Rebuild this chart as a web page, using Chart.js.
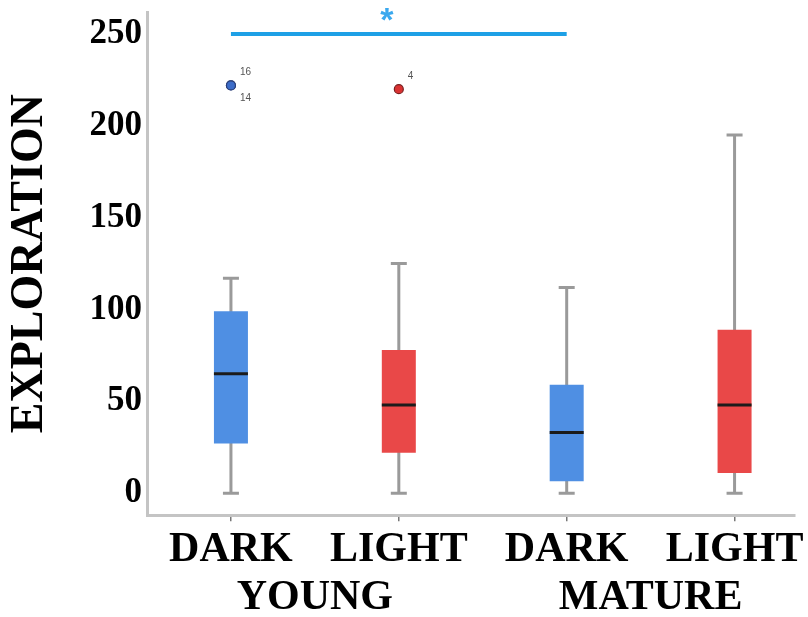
<!DOCTYPE html>
<html>
<head>
<meta charset="utf-8">
<script src="https://cdn.jsdelivr.net/npm/chart.js@4.4.1/dist/chart.umd.min.js"></script>
<style>
  html, body { margin: 0; padding: 0; background: #ffffff; }
  #wrap { width: 808px; height: 617px; }
</style>
</head>
<body>
<div id="wrap"><canvas id="c" width="808" height="617"></canvas></div>
<script>
// ---- data ----
const categories = ['DARK', 'LIGHT', 'DARK', 'LIGHT'];
const groups = ['YOUNG', 'MATURE'];
const whiskerMin = [0, 0, 0, 0];
const q1 = [27, 22, 6.5, 11];
const median = [65, 48, 33, 48];
const q3 = [99, 78, 59, 89];
const whiskerMax = [117, 125, 112, 195];
const outlierCategory = [0, 0, 1];
const outlierValue = [222, 222, 220];
const outlierCase = ['16', '14', '4'];
const yTicks = [0, 50, 100, 150, 200, 250];
const sigPair = [0, 2];
const sigLevel = 250;
const sigMark = '*';
const yTitle = 'EXPLORATION';

// ---- styles ----
const BLUE = '#4f8fe3', RED = '#e94848';
const boxColors = categories.map((c) => c === 'DARK' ? BLUE : RED);
const outFill = outlierCategory.map((i) => boxColors[i] === BLUE ? '#3c6cc8' : '#d93232');
const outBorder = outlierCategory.map((i) => boxColors[i] === BLUE ? '#2b3f78' : '#7a1f1f');
const WHISKER = '#9a9a9a';
const AXIS = '#c4c4c4';
const SIG = '#1ea0e6';
const serif = "'Liberation Serif', 'Times New Roman', serif";

const idx = categories.map((_, i) => i);

const noPad = (s) => { s.paddingTop = 0; s.paddingBottom = 0; s.paddingLeft = 0; s.paddingRight = 0; };

const outlierLabels = {
  id: 'outlierLabels',
  afterDatasetsDraw(chart) {
    const ctx = chart.ctx;
    const meta = chart.getDatasetMeta(5);
    ctx.save();
    ctx.font = "10px 'Liberation Sans', Arial, sans-serif";
    ctx.fillStyle = '#555555';
    ctx.textAlign = 'left';
    ctx.textBaseline = 'middle';
    const seen = {};
    meta.data.forEach((pt, i) => {
      const key = outlierCategory[i] + ':' + outlierValue[i];
      const n = seen[key] || 0;
      seen[key] = n + 1;
      const dy = n === 0 ? -13 : 13;
      ctx.fillText(outlierCase[i], pt.x + 9, pt.y + dy);
    });
    // significance mark
    const xs = chart.scales.x, ys = chart.scales.y;
    const mx = (xs.getPixelForValue(sigPair[0]) + xs.getPixelForValue(sigPair[1])) / 2 - 12;
    ctx.font = "bold 34px 'Liberation Sans', Arial, sans-serif";
    ctx.fillStyle = '#3aa8ee';
    ctx.textAlign = 'center';
    ctx.textBaseline = 'middle';
    ctx.fillText(sigMark, mx, ys.getPixelForValue(sigLevel) - 12);
    ctx.restore();
  }
};

new Chart(document.getElementById('c'), {
  type: 'bar',
  data: {
    datasets: [
      { // 0 whiskers
        type: 'bar', grouped: false, order: 5,
        data: idx.map((i) => ({ x: i, y: [whiskerMin[i], whiskerMax[i]] })),
        backgroundColor: WHISKER, borderWidth: 0, maxBarThickness: 3
      },
      { // 1 boxes
        type: 'bar', grouped: false, order: 4,
        data: idx.map((i) => ({ x: i, y: [q1[i], q3[i]] })),
        backgroundColor: boxColors, borderWidth: 0, maxBarThickness: 34
      },
      { // 2 medians
        type: 'line', order: 1, showLine: false,
        data: idx.map((i) => ({ x: i, y: median[i] })),
        pointStyle: 'line', pointRadius: 17, pointBorderWidth: 3,
        pointBorderColor: '#1b1b1b', borderColor: '#1b1b1b'
      },
      { // 3 whisker caps (max)
        type: 'line', order: 2, showLine: false,
        data: idx.map((i) => ({ x: i, y: whiskerMax[i] })),
        pointStyle: 'line', pointRadius: 8, pointBorderWidth: 3,
        pointBorderColor: WHISKER, borderColor: WHISKER
      },
      { // 4 whisker caps (min)
        type: 'line', order: 2, showLine: false,
        data: idx.map((i) => ({ x: i, y: whiskerMin[i] })),
        pointStyle: 'line', pointRadius: 8, pointBorderWidth: 3,
        pointBorderColor: WHISKER, borderColor: WHISKER
      },
      { // 5 outliers
        type: 'line', order: 0, showLine: false,
        data: outlierValue.map((v, i) => ({ x: outlierCategory[i], y: v })),
        pointStyle: 'circle', pointRadius: 4.5, pointBorderWidth: 1.2,
        pointBackgroundColor: outFill, pointBorderColor: outBorder
      },
      { // 6 significance bar
        type: 'line', order: 0,
        data: sigPair.map((i) => ({ x: i, y: sigLevel })),
        borderColor: SIG, borderWidth: 4, pointRadius: 0, borderCapStyle: 'butt'
      }
    ]
  },
  options: {
    responsive: false,
    animation: false,
    layout: { autoPadding: false, padding: { left: 0, right: 13, top: 12, bottom: 0 } },
    plugins: { legend: { display: false }, tooltip: { enabled: false } },
    scales: {
      x: {
        type: 'linear', position: 'bottom', weight: 0, offset: false,
        min: -0.5, max: 3.36,
        afterBuildTicks: (s) => { s.ticks = idx.map((i) => ({ value: i })); },
        afterFit: noPad,
        ticks: {
          callback: (v) => categories[v],
          font: { family: serif, size: 42, weight: 'bold', lineHeight: 1 },
          color: '#000000', padding: 8, maxRotation: 0, autoSkip: false
        },
        grid: { display: true, offset: false, drawOnChartArea: false, drawTicks: true, tickLength: 6, color: '#777777', lineWidth: 1.5 },
        border: { display: true, color: AXIS, width: 3 }
      },
      x2: {
        type: 'linear', position: 'bottom', weight: 1, offset: false,
        min: -0.5, max: 3.36,
        afterBuildTicks: (s) => { s.ticks = [{ value: 0.5 }, { value: 2.5 }]; },
        afterFit: noPad,
        ticks: {
          callback: (v) => groups[Math.floor(v / 2)],
          font: { family: serif, size: 42, weight: 'bold', lineHeight: 0.9 },
          color: '#000000', padding: 0, maxRotation: 0, autoSkip: false
        },
        grid: { display: false, offset: false, drawTicks: false },
        border: { display: false }
      },
      y: {
        type: 'linear', position: 'left',
        min: -12, max: 262,
        afterBuildTicks: (s) => { s.ticks = yTicks.map((v) => ({ value: v })); },
        afterFit: (s) => { s.width = 147; noPad(s); },
        ticks: {
          font: { family: serif, size: 35, weight: 'bold', lineHeight: 0.3 },
          color: '#000000', padding: 5
        },
        grid: { display: false, drawTicks: false },
        border: { display: true, color: AXIS, width: 3 },
        title: {
          display: true, text: yTitle,
          font: { family: serif, size: 46, weight: 'bold', lineHeight: 1 },
          color: '#000000', padding: { top: 7, bottom: 0 }
        }
      }
    }
  },
  plugins: [outlierLabels]
});
</script>
</body>
</html>
